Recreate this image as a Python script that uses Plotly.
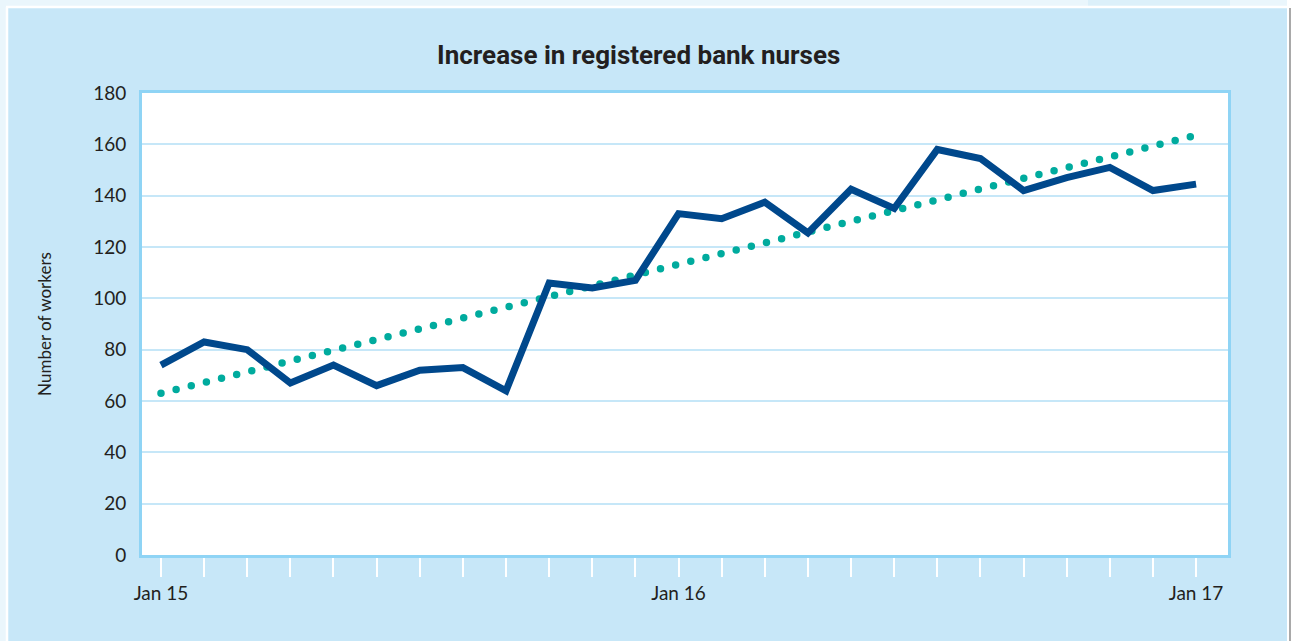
import plotly.graph_objects as go

months = ["Jan 15", "Feb 15", "Mar 15", "Apr 15", "May 15", "Jun 15", "Jul 15", "Aug 15",
          "Sep 15", "Oct 15", "Nov 15", "Dec 15", "Jan 16", "Feb 16", "Mar 16", "Apr 16",
          "May 16", "Jun 16", "Jul 16", "Aug 16", "Sep 16", "Oct 16", "Nov 16", "Dec 16", "Jan 17"]
workers = [74, 83, 80, 67, 74, 66, 72, 73, 64, 106, 104, 107, 133, 131, 137.5, 125.5,
           142.5, 135, 158, 154.5, 142, 147, 151, 142, 144.5]
trend_x = ["Jan 15", "Jan 17"]
trend_y = [63, 163.5]
tick_labels = {"Jan 15": "Jan 15", "Jan 16": "Jan 16", "Jan 17": "Jan 17"}

W, H = 1293, 641
L, R, T, B = 142, 1228, 93, 555

idx = {m: i for i, m in enumerate(months)}

fig = go.Figure()
fig.add_trace(go.Scatter(x=[idx[m] for m in trend_x], y=trend_y, mode="lines",
                         line=dict(color="#00ab9e", width=7.5, dash="0px,15.6px"),
                         hoverinfo="skip", showlegend=False))
fig.add_trace(go.Scatter(x=list(range(len(months))), y=workers, mode="lines",
                         line=dict(color="#00488c", width=7), showlegend=False))

def px(xp):
    return (xp - L) / (R - L)

def py(yp):
    return (B - yp) / (B - T)

shapes = [
    # outer page strips
    dict(type="rect", xref="paper", yref="paper", x0=px(0), x1=px(W), y0=py(0), y1=py(6),
         fillcolor="#eaf6fc", line_width=0, layer="above"),
    dict(type="rect", xref="paper", yref="paper", x0=px(0), x1=px(6), y0=py(0), y1=py(H),
         fillcolor="#eaf6fc", line_width=0, layer="above"),
    dict(type="rect", xref="paper", yref="paper", x0=px(1088), x1=px(1230), y0=py(0), y1=py(6),
         fillcolor="#dcf0fa", line_width=0, layer="above"),
    dict(type="rect", xref="paper", yref="paper", x0=px(1287), x1=px(W), y0=py(0), y1=py(H),
         fillcolor="#ffffff", line_width=0, layer="above"),
    dict(type="rect", xref="paper", yref="paper", x0=px(1289), x1=px(1291), y0=py(8), y1=py(H),
         fillcolor="#a9a9a9", line_width=0, layer="above"),
    # white frame lines
    dict(type="line", xref="paper", yref="paper", x0=px(6), x1=px(1287), y0=py(7), y1=py(7),
         line=dict(color="#ffffff", width=2.5), layer="above"),
    dict(type="line", xref="paper", yref="paper", x0=px(7), x1=px(7), y0=py(7), y1=py(H),
         line=dict(color="#ffffff", width=2.5), layer="above"),
]

fig.update_layout(
    width=W, height=H,
    margin=dict(l=L, r=W - R, t=T, b=H - B),
    paper_bgcolor="#c7e7f8",
    plot_bgcolor="#ffffff",
    title=dict(text="<b>Increase in registered bank nurses</b>", x=0.494, xanchor="center",
               y=1 - 55 / H, yanchor="middle",
               font=dict(family="Roboto, sans-serif", size=26, color="#231f20")),
    font=dict(family="Lato, Open Sans, sans-serif", color="#231f20"),
    shapes=shapes,
    xaxis=dict(range=[-0.44, 24.74], tickmode="array", tickvals=list(range(len(months))),
               ticktext=[tick_labels.get(m, "") for m in months],
               ticks="outside", ticklen=19, tickwidth=1.5, tickcolor="#ffffff",
               showgrid=False, zeroline=False, showline=True, linecolor="#8fd4f5",
               linewidth=3, mirror=True, tickfont=dict(size=19, color="#231f20"),
               fixedrange=True),
    yaxis=dict(range=[0, 180], tickvals=list(range(0, 181, 20)), showgrid=True,
               gridcolor="#c6e7f8", gridwidth=2, zeroline=False, showline=True,
               linecolor="#8fd4f5", linewidth=3, mirror=True,
               ticks="", ticklabelstandoff=9, tickfont=dict(size=19, color="#231f20"),
               title=dict(text="Number of workers", standoff=38,
                          font=dict(size=17, color="#231f20")),
               fixedrange=True),
)

post = """
document.body.style.margin = '0';
document.body.style.padding = '0';
setTimeout(function(){
  var gd = document.getElementById('{plot_id}');
  var paths = gd.querySelectorAll('.scatterlayer .trace path.js-line');
  if (paths.length) { paths[0].style.strokeLinecap = 'round'; }
}, 0);
"""
fig.write_html("out.html", post_script=post, config={"displayModeBar": False})
